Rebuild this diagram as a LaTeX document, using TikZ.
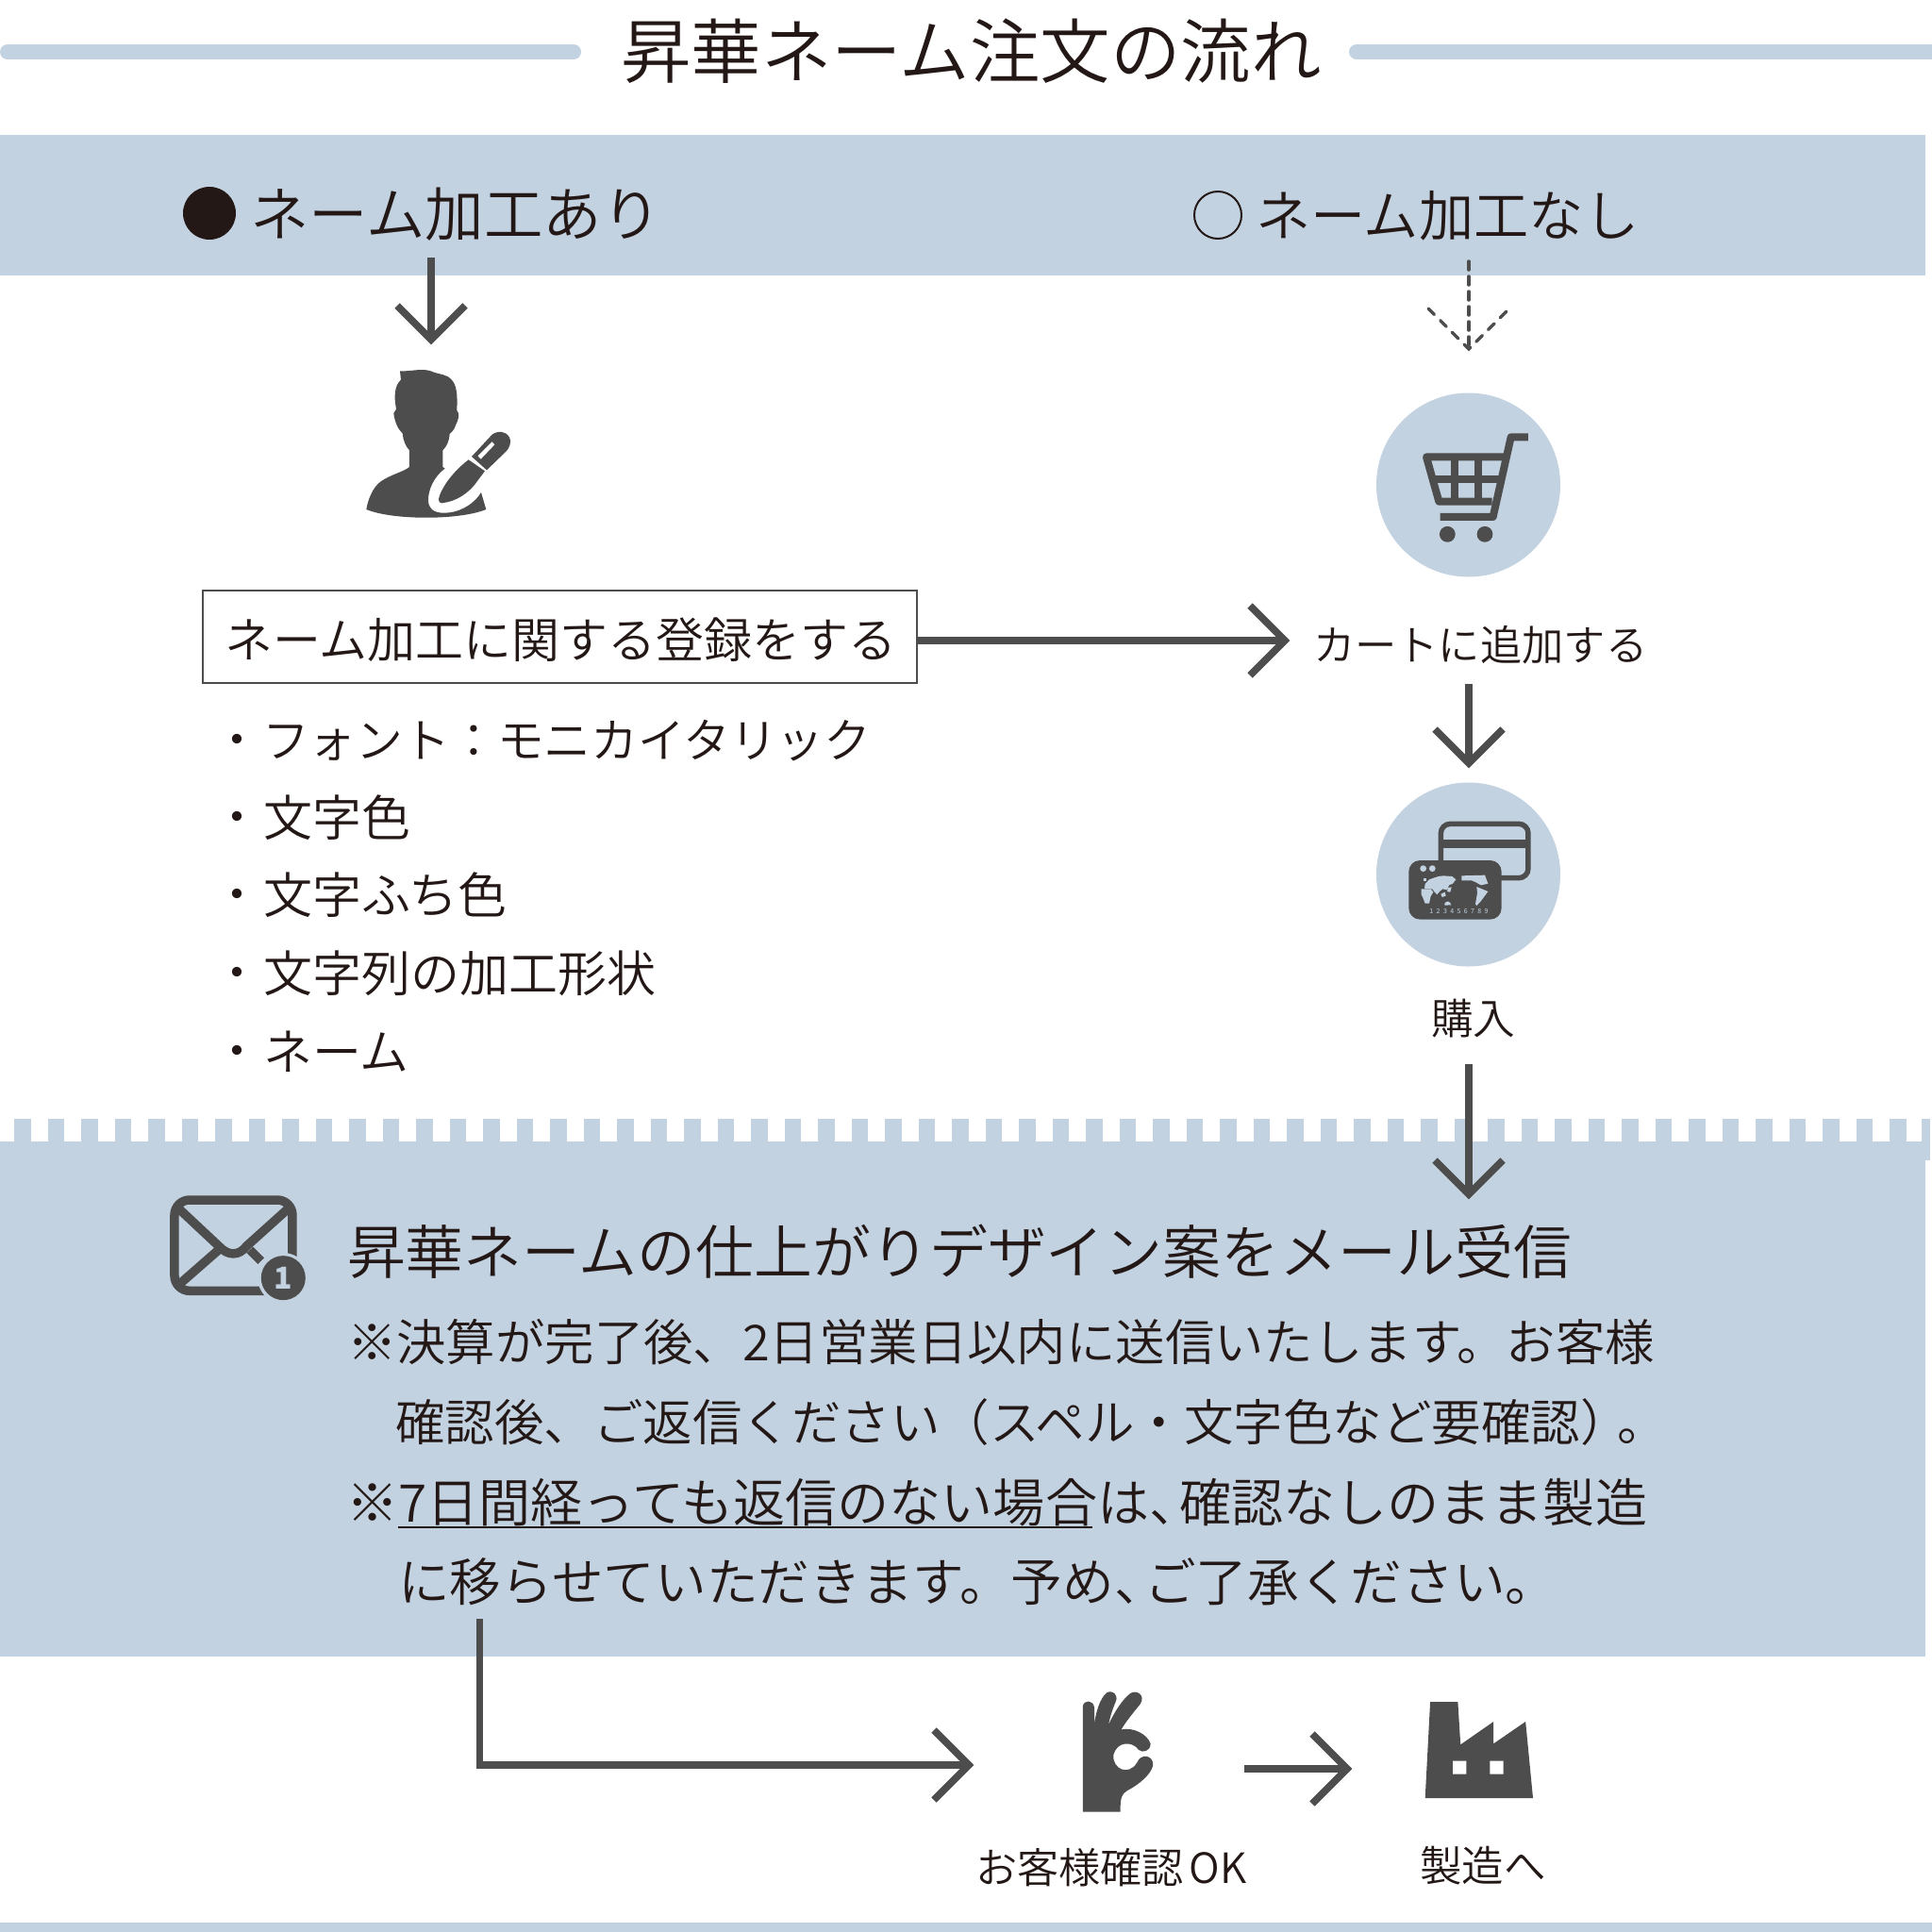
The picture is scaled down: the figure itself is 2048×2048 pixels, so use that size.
\documentclass[tikz,border=0pt]{standalone}
\usepackage{fontspec}
\setmainfont{Noto Sans CJK JP}[UprightFont={* DemiLight},BoldFont={* Bold}]
\newfontfamily\jpreg{Noto Sans CJK JP}
\newcommand{\fs}[1]{\fontsize{#1}{#1}\selectfont}
\newcommand{\tc}{\kern-0.42em}
\definecolor{band}{HTML}{C3D2E1}
\definecolor{ink}{HTML}{231815}
\definecolor{icon}{HTML}{4D4D4D}
\tikzset{
  txt/.style={text=ink,inner sep=0pt,outer sep=0pt,anchor=west},
  flow/.style={draw=icon,line width=7.5pt,line cap=butt,line join=miter},
  dashflow/.style={draw=icon,line width=3.5pt,line cap=round}
}
\begin{document}
\begin{tikzpicture}[x=1pt,y=-1pt]
\useasboundingbox (0,0) rectangle (2048,2048);
\fill[white] (0,0) rectangle (2048,2048);
% title
\draw[band,line width=16pt,line cap=round] (8,55) -- (608,55);
\draw[band,line width=16pt,line cap=round] (1438,55) -- (2056,55);
\node[txt] (title) at (658,54) {\fs{74.5}昇華ネーム注文の流れ};
% top band
\fill[band] (0,143) rectangle (2041,292);
\node[circle,fill=ink,minimum size=56pt,inner sep=0pt] (dot) at (222,226) {};
\node[circle,draw=ink,line width=2pt,minimum size=50pt,inner sep=0pt] (ring) at (1291,228) {};
\node[txt] (withname) at (265,227) {\fs{62.5}ネーム加工あり};
\node[txt] (noname) at (1331,229) {\fs{58.3}ネーム加工なし};
% arrows
\coordinate (a1s) at (457,273); \coordinate (a1e) at (457,360);
\draw[flow] (a1s) -- (a1e);
\draw[flow] (421,324) -- (a1e) -- (493,324);
\coordinate (a2s) at (1557,277); \coordinate (a2e) at (1557,370);
\draw[dashflow,dash pattern=on 9pt off 7pt] (a2s) -- (a2e);
\draw[dashflow,dash pattern=on 9pt off 9pt] (1514,327) -- (a2e) -- (1600,327);
% person icon
\begin{scope}[shift={(340,370)},x=0.3333pt,y=-0.3333pt]
\fill[icon] (252,70) .. controls (285,72) and (320,60) .. (350,70) .. controls (365,78) and (385,78) .. (405,88)
 .. controls (430,105) and (436,130) .. (433,195) .. controls (442,205) and (440,220) .. (430,240) .. controls (425,258) and (415,265) .. (410,270)
 .. controls (408,295) and (400,310) .. (388,322) -- (388,375) -- (395,380)
 .. controls (360,405) and (340,450) .. (342,485) .. controls (345,515) and (370,525) .. (410,520)
 .. controls (450,515) and (490,490) .. (510,456) -- (526,510)
 .. controls (440,545) and (230,545) .. (145,510) .. controls (150,480) and (165,440) .. (190,422)
 .. controls (220,400) and (265,390) .. (282,375) -- (282,322) .. controls (270,310) and (262,290) .. (260,268)
 .. controls (245,255) and (235,230) .. (232,205) .. controls (236,195) and (240,195) .. (240,190)
 .. controls (232,150) and (235,115) .. (255,98) -- cycle;
\fill[icon] (385,490) .. controls (372,490) and (372,475) .. (385,450) .. controls (405,410) and (440,375) .. (470,352) -- (522,388) -- (498,420)
 .. controls (470,460) and (430,485) .. (385,490) -- cycle;
\fill[icon] (480,342) -- (545,272) .. controls (565,258) and (590,262) .. (600,280) .. controls (608,295) and (600,315) .. (590,325) -- (528,385) -- cycle;
\fill[white] (500,340) -- (545,295) -- (553,304) -- (509,350) -- cycle;
\end{scope}
% cart
\node[circle,fill=band,minimum size=195pt,inner sep=0pt] (cartc) at (1556.5,514) {};
\begin{scope}[shift={(1420,260)},x=0.3333pt,y=-0.3333pt]
\draw[icon,line width=8pt,line join=round] (600,610) -- (545,610) -- (488,864) -- (320,864);
\draw[icon,line width=8pt,line join=round] (525,673) -- (276,673) -- (316,815) -- (485,815);
\draw[icon,line width=8pt] (366,673) -- (366,815) (441,673) -- (441,815) (296,745) -- (515,745);
\fill[icon] (343,919) circle (8.4pt) (462,919) circle (8.4pt);
\end{scope}
% box
\node[draw=icon,line width=2pt,fill=white,minimum width=757pt,minimum height=98pt,inner sep=0pt] (reg) at (593.5,675) {};
\node[txt] (regt) at (238,678) {\fs{51}ネーム加工に関する登録をする};
\node[txt] (cartt) at (1392,684) {\fs{44.3}カートに追加する};
\coordinate (a3e) at (1362,679);
\draw[flow] (reg.east |- a3e) -- (a3e);
\draw[flow] (1325,642) -- (a3e) -- (1325,716);
% list
\foreach \nm/\yy/\xx/\sz/\tx in {l1/785/278/49.8/フォント：モニカイタリック,l2/867/279/52/文字色,l3/949/279/52/文字ふち色,l4/1032/279/52/文字列の加工形状,l5/1115/279/52/ネーム}{
  \node[txt] (b\nm) at (226,\yy) {\fs{50}\vphantom{国}・};
  \node[txt] (\nm) at (\xx,\yy) {\fs{\sz}\tx};
}
% arrow to card
\coordinate (a4s) at (1557,725); \coordinate (a4e) at (1557,809);
\draw[flow] (a4s) -- (a4e);
\draw[flow] (1521,773) -- (a4e) -- (1593,773);
% card
\node[circle,fill=band,minimum size=195pt,inner sep=0pt] (cardc) at (1556.5,927) {};
\begin{scope}[shift={(1420,800)},x=0.3333pt,y=-0.3333pt]
\draw[icon,line width=5.5pt,rounded corners=10pt] (322,220) rectangle (600,392);
\fill[icon] (322,270) rectangle (600,298);
\fill[icon,rounded corners=12pt] (220,336) rectangle (515,524);
\fill[band] (266,362) circle (3.4pt) (295,362) circle (3.4pt);
\end{scope}
\begin{scope}[shift={(1490,905)},x=0.3333pt,y=-0.3333pt]
\fill[band] (75,82) -- (95,75) -- (105,72) -- (120,70) -- (148,72) -- (160,82) -- (150,95) -- (138,100) -- (132,115) -- (118,112) -- (108,120) -- (100,130) -- (92,122) -- (85,112) -- (60,110) -- (62,96) -- cycle;
\fill[band] (50,112) -- (80,112) -- (88,122) -- (80,135) -- (75,158) -- (62,158) -- (55,140) -- (50,130) -- cycle;
\fill[band] (58,78) rectangle (66,88);
\fill[band] (112,128) -- (125,122) -- (128,134) -- (116,138) -- cycle;
\fill[band] (135,108) -- (146,106) -- (142,122) -- (132,120) -- cycle;
\fill[band] (124,158) .. controls (130,148) and (142,150) .. (145,163) -- (124,164) -- cycle;
\fill[band] (178,70) -- (252,68) -- (262,95) -- (240,100) -- (222,90) -- (210,85) -- (178,85) -- cycle;
\fill[band] (226,105) -- (262,120) -- (240,150) -- (226,165) -- (222,160) -- (228,125) -- cycle;
\end{scope}
\node[inner sep=0pt,text=band] (digits) at (1546.5,966) {\jpreg\fs{7}1\kern3.4pt 2\kern3.4pt 3\kern3.4pt 4\kern3.4pt 5\kern3.4pt 6\kern3.4pt 7\kern3.4pt 8\kern3.4pt 9};
\node[txt] (buy) at (1517,1080) {\fs{44.7}購入};
% lower panel
\fill[band] (0,1210) rectangle (2046,1230);
\fill[band] (0,1230) rectangle (2041,1756);
\foreach \k in {0,...,56}{\fill[band] ({15+35.5*\k},1186) rectangle ({32.7+35.5*\k},1211);}
\fill[band] (2037,1186) rectangle (2046,1211);
\fill[band] (0,2038) rectangle (2048,2048);
% arrow to mail
\coordinate (a5s) at (1557,1128); \coordinate (a5e) at (1557,1266);
\draw[flow] (a5s) -- (a5e);
\draw[flow] (1521,1230) -- (a5e) -- (1593,1230);
% mail icon
\begin{scope}[shift={(0,1170)},x=0.3333pt,y=-0.3333pt]
\draw[icon,line width=9.5pt,rounded corners=16pt] (555,306) rectangle (930,595);
\draw[icon,line width=9.5pt] (570,335) -- (695,452) .. controls (725,485) and (760,485) .. (785,452) -- (915,335);
\draw[icon,line width=9.5pt] (695,465) -- (575,570);
\draw[icon,line width=9.5pt] (795,465) -- (830,500);
\fill[band] (901,555) circle (27pt);
\fill[icon] (901,554) circle (23.5pt);
\end{scope}
\node[inner sep=0pt,text=band] (one) at (300,1355) {\jpreg\bfseries\fs{32}1};
% lower text
\node[txt] (head) at (368,1327) {\fs{61.9}昇華ネームの仕上がりデザイン案をメール受信};
\node[txt] (t1) at (368,1423) {\fs{52.4}※決算が完了後、2日営業日以内に送信いたします。お客様};
\node[txt] (t2) at (419,1508) {\fs{52.5}確認後、ご返信ください（スペル・文字色など要確認）\kern-0.25em 。};
\node[txt] (t3) at (367,1593) {\fs{55.1}※7日間経っても返信のない場合は、\tc 確認なしのまま製造};
\node[txt] (t4) at (422,1677) {\fs{54.7}に移らせていただきます。予め、\tc ご了承ください。};
\coordinate (ula) at (422,1619); \coordinate (ulb) at (1158,1619);
\draw[ink,line width=2.5pt] (ula) -- (ulb);
% bottom
\coordinate (a6s) at (508.5,1716); \coordinate (a6m) at (508.5,1871); \coordinate (a6e) at (1027,1871);
\draw[flow] (a6s) -- (a6m) -- (a6e);
\draw[flow] (990,1834) -- (a6e) -- (990,1908);
\coordinate (a7s) at (1319,1875); \coordinate (a7e) at (1428,1875);
\draw[flow] (a7s) -- (a7e);
\draw[flow] (1391,1838) -- (a7e) -- (1391,1912);
% hand and factory
\begin{scope}[shift={(1100,1760)},x=0.35714pt,y=-0.3333pt]
\fill[icon] (134,145) .. controls (138,125) and (165,125) .. (168,150) -- (168,205)
 .. controls (172,165) and (185,120) .. (205,103) .. controls (222,92) and (240,110) .. (232,130) .. controls (222,155) and (215,180) .. (210,205)
 .. controls (225,170) and (250,125) .. (275,105) .. controls (295,92) and (320,112) .. (305,138) .. controls (285,165) and (265,190) .. (248,220)
 .. controls (285,212) and (325,235) .. (335,265) .. controls (335,290) and (310,295) .. (300,285) .. controls (280,255) and (235,258) .. (225,300)
 .. controls (220,345) and (270,370) .. (295,325) .. controls (305,295) and (345,300) .. (342,335) .. controls (335,365) and (300,395) .. (265,415)
 .. controls (250,425) and (245,435) .. (245,482) -- (134,482) -- cycle;
\fill[icon] (1165,132) -- (1247,132) -- (1255,268) -- (1353,195) -- (1353,265) -- (1448,195) -- (1470,438) -- (1150,438) -- cycle;
\fill[white] (1232,320) rectangle (1272,362) (1342,320) rectangle (1382,362);
\end{scope}
\node[txt] (okt) at (1034,1980) {\fs{44.2}お客様確認\kern6pt OK};
\node[txt] (mft) at (1505,1978) {\fs{44.5}製造へ};
\end{tikzpicture}
\end{document}
